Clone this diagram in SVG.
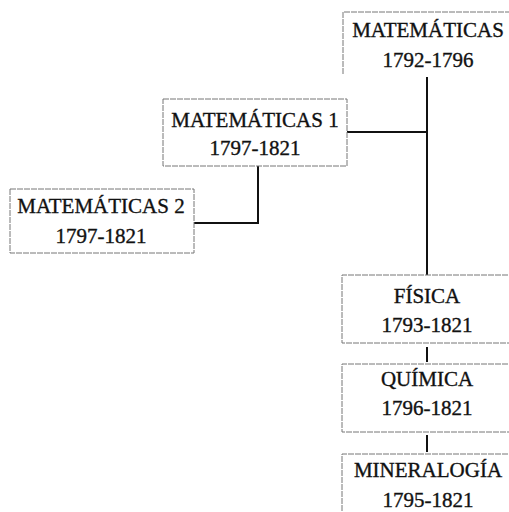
<svg xmlns="http://www.w3.org/2000/svg" width="509" height="512" viewBox="0 0 509 512">
<style>
.box{fill:none;stroke:#777;stroke-width:1;stroke-dasharray:6 1}
.t{font-family:"Liberation Serif","Times New Roman",serif;font-size:21px;fill:#111;stroke:#111;stroke-width:0.35;text-anchor:middle}
.c{fill:none;stroke:#111;stroke-width:2}
</style>
<rect width="509" height="512" fill="#fff"/>
<g id="connectors">
<path class="c" d="M427,77 V275"/>
<path class="c" d="M347,132 H427"/>
<path class="c" d="M258,166 V223 H194"/>
<path class="c" d="M427,347 V362"/>
<path class="c" d="M427,435 V452"/>
</g>
<g id="n-matematicas">
<path class="box" d="M343,74 V12 H515"/>
<text class="t" x="428" y="37">MATEMÁTICAS</text>
<text class="t" x="428" y="67">1792-1796</text>
</g>
<g id="n-mat1">
<rect class="box" x="163" y="99" width="184" height="67"/>
<text class="t" x="255" y="127">MATEMÁTICAS 1</text>
<text class="t" x="255" y="155">1797-1821</text>
</g>
<g id="n-mat2">
<rect class="box" x="10" y="189" width="184" height="64"/>
<text class="t" x="101" y="213">MATEMÁTICAS 2</text>
<text class="t" x="101" y="243">1797-1821</text>
</g>
<g id="n-fisica">
<path class="box" d="M515,275 H342 V343 H515"/>
<text class="t" x="427" y="303">FÍSICA</text>
<text class="t" x="427" y="332">1793-1821</text>
</g>
<g id="n-quimica">
<path class="box" d="M515,364 H342 V432 H515"/>
<text class="t" x="427" y="386">QUÍMICA</text>
<text class="t" x="427" y="415">1796-1821</text>
</g>
<g id="n-mineralogia">
<path class="box" d="M515,454 H342 V520"/>
<text class="t" x="428" y="477">MINERALOGÍA</text>
<text class="t" x="428" y="507">1795-1821</text>
</g>
</svg>
